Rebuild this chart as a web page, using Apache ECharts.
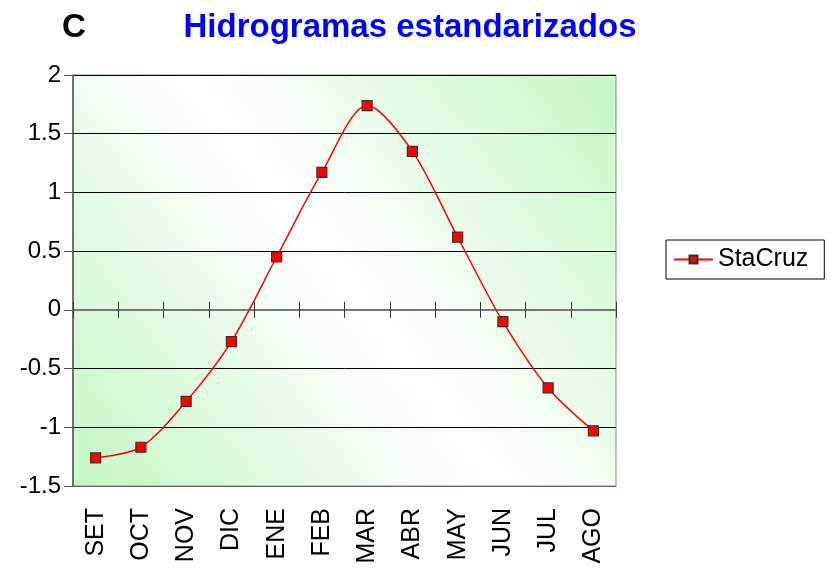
<!DOCTYPE html>
<html><head><meta charset="utf-8">
<script src="https://cdn.jsdelivr.net/npm/echarts@6/dist/echarts.min.js"></script>
<style>html,body{margin:0;padding:0;background:#fff}#c{width:831px;height:573px}</style>
</head><body><div id="c"></div>
<script>
const months = ['SET','OCT','NOV','DIC','ENE','FEB','MAR','ABR','MAY','JUN','JUL','AGO'];
const staCruz = [-1.26,-1.17,-0.78,-0.27,0.45,1.17,1.74,1.35,0.62,-0.10,-0.665,-1.03];
const seriesName = 'StaCruz';
const titleText = 'Hidrogramas estandarizados';
const panelLetter = 'C';
const yMin = -1.5, yMax = 2, yStep = 0.5;

const chart = echarts.init(document.getElementById('c'), null, {renderer:'canvas'});
const font = 'Liberation Sans, Arial, sans-serif';
const catAxisBase = {type:'category', data: months, boundaryGap: true};
chart.setOption({
  animation:false,
  backgroundColor:'#ffffff',
  graphic:[
    {type:'text', left:62, top:11, style:{text:panelLetter, font:'bold 33px '+font, fill:'#000'}},
    {type:'text', x:410, y:28, style:{text:titleText, font:'bold 33px '+font, fill:'#0000ff', textAlign:'center', textVerticalAlign:'middle'}}
  ],
  legend:{
    left:666, top:240, orient:'vertical',
    padding:[7,16,7,7], borderColor:'#000', borderWidth:1,
    itemWidth:39, itemHeight:10,
    textStyle:{fontFamily:font, fontSize:25, color:'#000'},
    data:[seriesName]
  },
  grid:{left:73, right:215, top:75, bottom:87, show:true,
    borderColor:'#888', borderWidth:1,
    backgroundColor:{type:'linear', x:1, y:0, x2:0, y2:1, colorStops:[
      {offset:0, color:'#c4f7c4'},{offset:0.5, color:'#ffffff'},{offset:1, color:'#c4f7c4'}]}
  },
  xAxis:[
    Object.assign({}, catAxisBase, {position:'bottom',
      axisLine:{onZero:false, show:true, lineStyle:{color:'#666', width:1}},
      axisTick:{show:false}, splitLine:{show:false},
      axisLabel:{rotate:90, fontSize:25, fontFamily:font, color:'#000', margin:22}}),
    Object.assign({}, catAxisBase, {position:'bottom',
      axisLine:{onZero:true, onZeroAxisIndex:0, show:true, lineStyle:{color:'#777', width:2}},
      axisTick:{show:true, inside:true, length:8, lineStyle:{color:'#333', width:1}},
      axisLabel:{show:false}, splitLine:{show:false}}),
    Object.assign({}, catAxisBase, {position:'bottom',
      axisLine:{onZero:true, onZeroAxisIndex:1, show:false},
      axisTick:{show:true, inside:false, length:8, lineStyle:{color:'#333', width:1}},
      axisLabel:{show:false}, splitLine:{show:false}})
  ],
  yAxis:[
    {type:'value', min:yMin, max:yMax, interval:yStep,
      axisLine:{show:true, lineStyle:{color:'#555', width:1.5}},
      axisTick:{show:true, length:9, lineStyle:{color:'#555'}},
      splitLine:{show:true, lineStyle:{color:'#000', width:1}},
      axisLabel:{fontSize:24, fontFamily:font, color:'#000', margin:12}
    },
    {type:'value', min:yMin, max:yMax, interval:yStep, position:'right',
      axisLine:{show:false}, axisTick:{show:false}, axisLabel:{show:false}, splitLine:{show:false}}
  ],
  series:[{
    name:seriesName, type:'line', xAxisIndex:0, yAxisIndex:0, data:staCruz, smooth:0.3,
    symbol:'rect', symbolSize:10,
    lineStyle:{color:'#ff0000', width:1.5},
    itemStyle:{color:'#ff0000', borderColor:'#333', borderWidth:1.2}
  }]
});
</script></body></html>
